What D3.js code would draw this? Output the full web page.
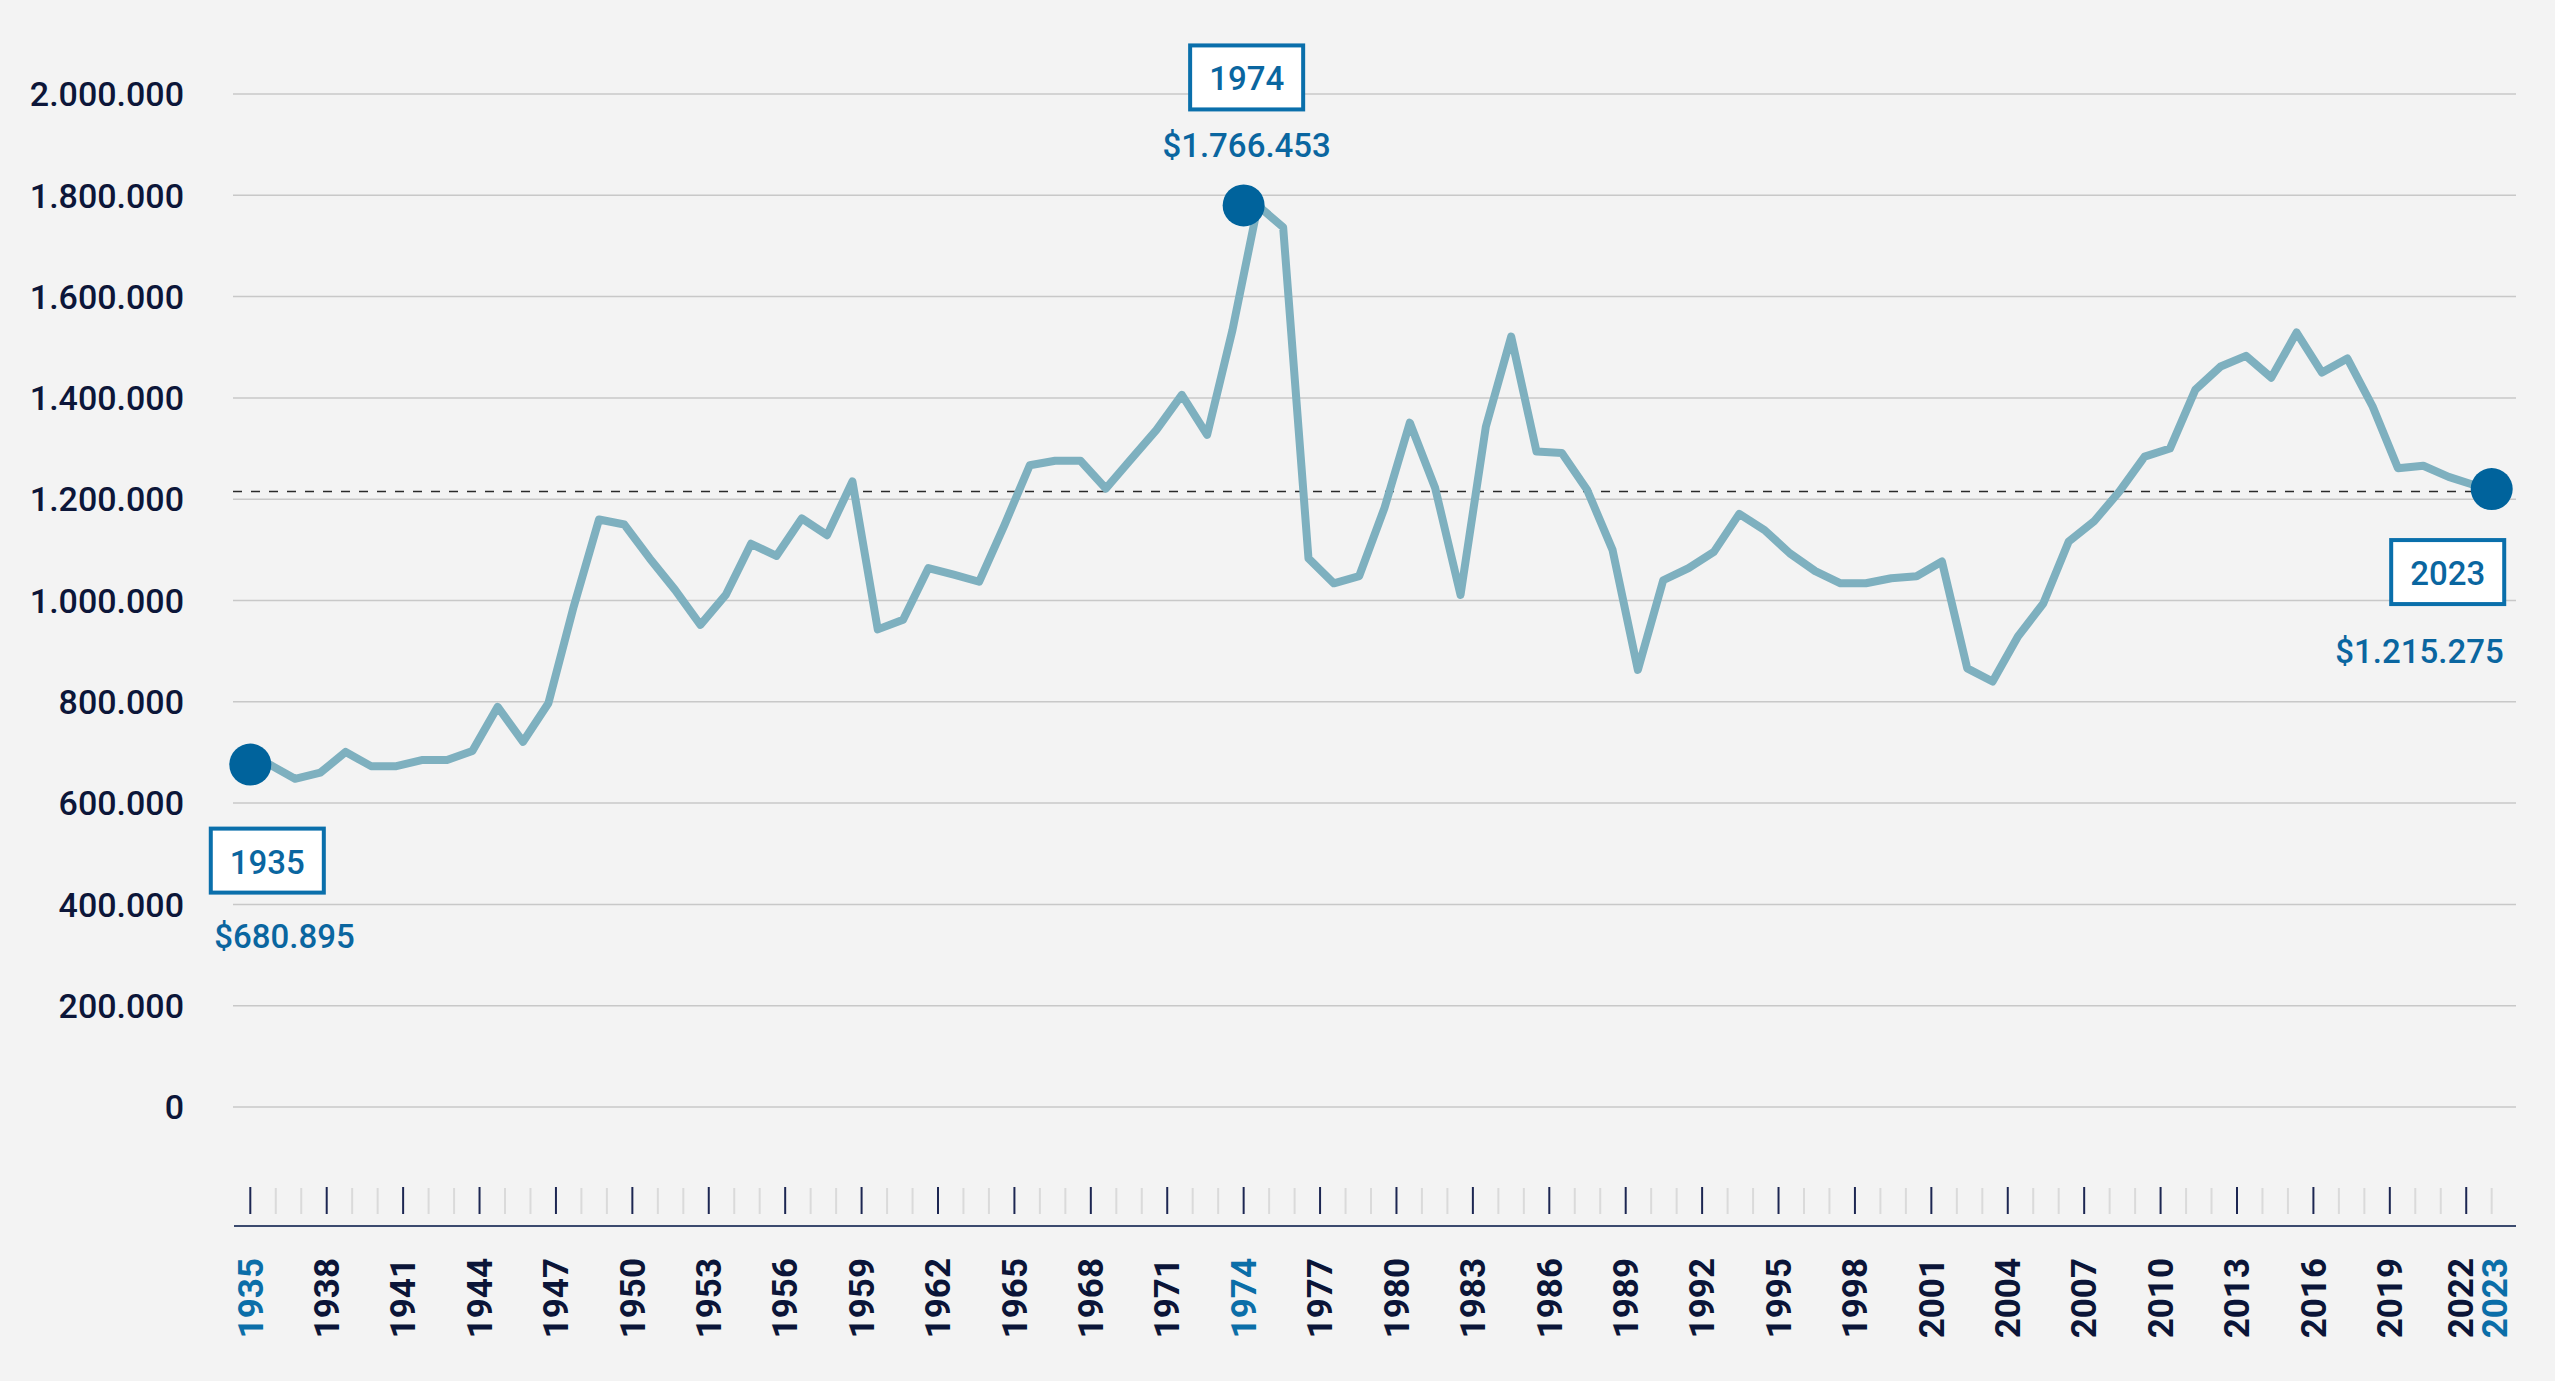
<!DOCTYPE html>
<html><head><meta charset="utf-8">
<script src="https://cdn.jsdelivr.net/npm/d3@7"></script>
<style>
html,body{margin:0;padding:0;background:#f3f3f3;}
svg{display:block;font-family:Roboto,"Liberation Sans",sans-serif;}
</style></head><body>
<svg id="chart" width="2555" height="1381"></svg>
<script>
// ---------- DATA ----------
const years = [1935,1936,1937,1938,1939,1940,1941,1942,1943,1944,1945,1946,1947,1948,1949,1950,1951,1952,1953,1954,1955,1956,1957,1958,1959,1960,1961,1962,1963,1964,1965,1966,1967,1968,1969,1970,1971,1972,1973,1974,1975,1976,1977,1978,1979,1980,1981,1982,1983,1984,1985,1986,1987,1988,1989,1990,1991,1992,1993,1994,1995,1996,1997,1998,1999,2000,2001,2002,2003,2004,2005,2006,2007,2008,2009,2010,2011,2012,2013,2014,2015,2016,2017,2018,2019,2020,2021,2022,2023];
const values = [676000,648000,660000,701000,673000,673000,685000,685000,703000,790000,
  721000,797000,988000,1160000,1150000,1083000,1021000,952000,1011000,1112000,
  1088000,1162000,1129000,1235000,943000,962000,1064000,1051000,1037000,1149000,
  1267000,1276000,1276000,1221000,1279000,1337000,1406000,1327000,1534000,1780000,
  1737000,1083000,1034000,1048000,1183000,1351000,1222000,1011000,1343000,1521000,
  1294000,1291000,1218000,1100000,863000,1040000,1064000,1096000,1171000,1139000,
  1093000,1058000,1034000,1034000,1044000,1048000,1077000,866000,840000,929000,
  994000,1116000,1156000,1215000,1284000,1300000,1416000,1462000,1483000,1440000,
  1529000,1450000,1478000,1383000,1261000,1266000,1244000,1228000,1220000];
const yTicks = [0,200000,400000,600000,800000,1000000,1200000,1400000,1600000,1800000,2000000];
const xLabelYears = [1935,1938,1941,1944,1947,1950,1953,1956,1959,1962,1965,1968,1971,1974,1977,1980,1983,1986,1989,1992,1995,1998,2001,2004,2007,2010,2013,2016,2019,2022,2023];
const highlightYears = [1935,1974,2023];
const annoYears = [1935,1974,2023];
const annoLabels = ["1935","1974","2023"];
const annoValues = ["$680.895","$1.766.453","$1.215.275"];
const referenceValue = 1215275;

// ---------- SETUP ----------
const svg = d3.select("#chart");
const W = 2555, H = 1381;
svg.append("rect").attr("width",W).attr("height",H).attr("fill","#f3f3f3");

const x = d3.scaleLinear().domain([1935,2023]).range([250.3,2491.7]);
const xLine = d3.scaleBand().domain(years).range([257,2512]);
const y = d3.scaleLinear().domain([0,2000000]).range([1107,94]);
const gridX0 = 233, gridX1 = 2516;

const fmt = v => d3.format(",")(v).replace(/,/g,".");

// gridlines
svg.append("g").selectAll("line").data(yTicks).join("line")
  .attr("x1",gridX0).attr("x2",gridX1)
  .attr("y1",d=>y(d)).attr("y2",d=>y(d))
  .attr("stroke","#c8c8c8").attr("stroke-width",1.5);

// y labels
svg.append("g").selectAll("text").data(yTicks).join("text")
  .attr("x",184).attr("y",d=>y(d)).attr("dy","0.36em")
  .attr("text-anchor","end")
  .attr("font-size",34).attr("font-weight",500).attr("fill","#0c1639")
  .text(d=>fmt(d));

// reference dashed line
svg.append("line")
  .attr("x1",gridX0).attr("x2",x(2023))
  .attr("y1",y(referenceValue)).attr("y2",y(referenceValue))
  .attr("stroke","#2a2a2a").attr("stroke-width",1.5)
  .attr("stroke-dasharray","9,9");

// line
const data = years.map((yr,i)=>({year:yr,value:values[i]}));
const line = d3.line()
  .x(d=>xLine(d.year)+xLine.bandwidth()/2)
  .y(d=>y(d.value));
svg.append("path").datum(data)
  .attr("d",line).attr("fill","none")
  .attr("stroke","#7eb0bf").attr("stroke-width",8)
  .attr("stroke-linejoin","round").attr("stroke-linecap","round");

// circles
svg.append("g").selectAll("circle").data(highlightYears).join("circle")
  .attr("cx",d=>x(d))
  .attr("cy",d=>y(values[years.indexOf(d)]))
  .attr("r",21).attr("fill","#00639c");

// x axis ticks
const labelSet = new Set(xLabelYears.filter(d=>d!==2023));
svg.append("g").selectAll("line").data(years).join("line")
  .attr("x1",d=>x(d)).attr("x2",d=>x(d))
  .attr("y1",d=>labelSet.has(d)?1187:1188).attr("y2",1214)
  .attr("stroke",d=>labelSet.has(d)?"#1c2652":"#dadada")
  .attr("stroke-width",2);

// axis line
svg.append("line").attr("x1",234).attr("x2",2516)
  .attr("y1",1226).attr("y2",1226)
  .attr("stroke","#3b4a6e").attr("stroke-width",2.2);

// x labels (last two nudged apart so they do not collide)
const nudge = {2022:-5, 2023:3};
svg.append("g").selectAll("text").data(xLabelYears).join("text")
  .attr("transform",d=>`translate(${x(d)+(nudge[d]||0)},1258) rotate(-90)`)
  .attr("dy","0.35em")
  .attr("text-anchor","end")
  .attr("font-size",35).attr("font-weight",700)
  .attr("fill",d=>highlightYears.includes(d)?"#0b6ea8":"#0b1538")
  .text(d=>d);

// annotations
const annoCfg = [
  {dx:17,  boxDy:62,   valDy:183,  valAnchor:"start", valDx:-53},
  {dx:3,   boxDy:-162, valDy:-48,  valAnchor:"middle", valDx:0},
  {dx:-44, boxDy:49,   valDy:174,  valAnchor:"end", valDx:56}
];
const boxH = 68, pad = 21, blue = "#0a66a0";
annoYears.forEach((yr,i)=>{
  const c = annoCfg[i];
  const cy = y(values[years.indexOf(yr)]);
  const cx = x(yr) + c.dx;
  const g = svg.append("g");
  const rect = g.append("rect");
  const t = g.append("text")
    .attr("x",cx).attr("y",cy + c.boxDy + 47)
    .attr("text-anchor","middle")
    .attr("font-size",33).attr("font-weight",500).attr("fill",blue)
    .text(annoLabels[i]);
  const tw = t.node().getComputedTextLength();
  const bw = tw + 2*pad;
  rect.attr("x",cx-bw/2+2).attr("y",cy+c.boxDy+2)
    .attr("width",bw-4).attr("height",boxH-4)
    .attr("fill","#ffffff").attr("stroke","#0a6fab").attr("stroke-width",4);
  g.append("text")
    .attr("x",cx + c.valDx).attr("y",cy + c.valDy)
    .attr("text-anchor",c.valAnchor)
    .attr("font-size",33).attr("font-weight",500).attr("fill",blue)
    .text(annoValues[i]);
});
</script>
</body></html>
